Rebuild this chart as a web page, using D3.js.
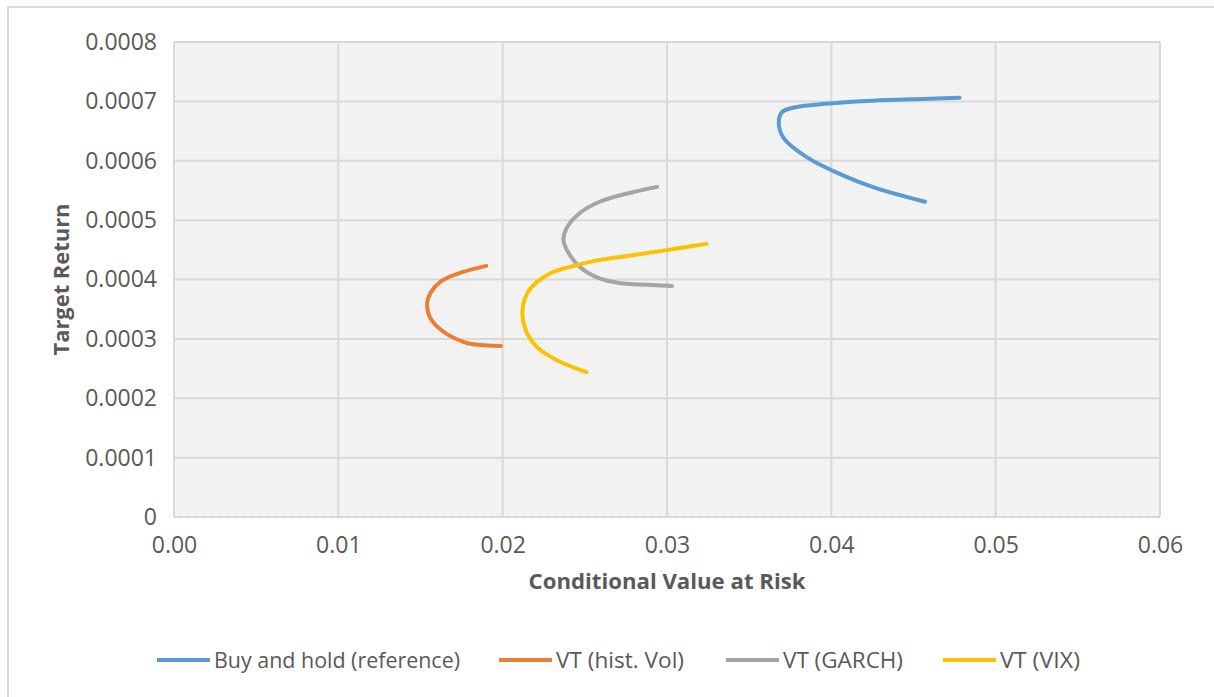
<!DOCTYPE html>
<html>
<head>
<meta charset="utf-8">
<script src="https://cdn.jsdelivr.net/npm/d3@7"></script>
<style>
  html, body { margin: 0; padding: 0; background: #fff; }
  svg { display: block; font-family: "Open Sans", "Noto Sans", sans-serif; }
</style>
</head>
<body>
<svg id="chart" width="1214" height="697"></svg>
<script>
// Efficient-frontier style curves: Conditional Value at Risk vs. Target Return
const seriesNames = ["Buy and hold (reference)", "VT (hist. Vol)", "VT (GARCH)", "VT (VIX)"];
const seriesColors = ["#5b9bd5", "#ed7d31", "#a5a5a5", "#ffc000"];

const buyHoldCvar = [0.0478, 0.0455, 0.0425, 0.0401, 0.0385, 0.0375, 0.0370, 0.0368, 0.0371, 0.0385, 0.0401, 0.0425, 0.0457];
const buyHoldRet  = [0.000706, 0.000704, 0.000701, 0.000697, 0.000693, 0.000688, 0.000682, 0.000664, 0.000638, 0.000606, 0.000583, 0.000556, 0.000531];

const histVolCvar = [0.0190, 0.0174, 0.0162, 0.0156, 0.0154, 0.0156, 0.0164, 0.0176, 0.0182, 0.0199];
const histVolRet  = [0.000423, 0.000411, 0.000396, 0.000377, 0.000360, 0.000335, 0.000312, 0.000295, 0.000291, 0.000288];

const garchCvar = [0.0294, 0.0279, 0.0259, 0.0247, 0.0239, 0.0237, 0.0240, 0.0247, 0.0257, 0.0271, 0.0288, 0.0303];
const garchRet  = [0.000556, 0.000547, 0.000531, 0.000512, 0.000487, 0.000467, 0.000445, 0.000421, 0.000404, 0.000394, 0.000391, 0.000389];

const vixCvar = [0.0324, 0.0308, 0.0279, 0.0259, 0.0245, 0.0231, 0.0221, 0.0215, 0.0212, 0.0214, 0.0221, 0.0233, 0.0251];
const vixRet  = [0.000460, 0.000453, 0.000441, 0.000433, 0.000424, 0.000413, 0.000396, 0.000377, 0.000345, 0.000315, 0.000286, 0.000264, 0.000244];

const xTicks = [0, 0.01, 0.02, 0.03, 0.04, 0.05, 0.06];
const yTicks = [0, 0.0001, 0.0002, 0.0003, 0.0004, 0.0005, 0.0006, 0.0007, 0.0008];
const xTickLabels = ["0.00", "0.01", "0.02", "0.03", "0.04", "0.05", "0.06"];
const yTickLabels = ["0", "0.0001", "0.0002", "0.0003", "0.0004", "0.0005", "0.0006", "0.0007", "0.0008"];

const series = [
  { name: seriesNames[0], color: seriesColors[0], xs: buyHoldCvar, ys: buyHoldRet },
  { name: seriesNames[1], color: seriesColors[1], xs: histVolCvar, ys: histVolRet },
  { name: seriesNames[2], color: seriesColors[2], xs: garchCvar, ys: garchRet },
  { name: seriesNames[3], color: seriesColors[3], xs: vixCvar, ys: vixRet }
];

const svg = d3.select("#chart");
const textColor = "#595959";
const gridColor = "#d9d9d9";

// outer chart frame
svg.append("rect")
  .attr("x", 8).attr("y", 7).attr("width", 1230).attr("height", 720)
  .attr("fill", "#fff").attr("stroke", gridColor).attr("stroke-width", 2);

const plot = { left: 174, right: 1160, top: 42, bottom: 517 };

const x = d3.scaleLinear().domain([0, 0.06]).range([plot.left, plot.right]);
const y = d3.scaleLinear().domain([0, 0.0008]).range([plot.bottom, plot.top]);

// fine woven texture for the plot area
const defs = svg.append("defs");
const pat = defs.append("pattern")
  .attr("id", "weave").attr("patternUnits", "userSpaceOnUse")
  .attr("width", 4).attr("height", 4);
pat.append("rect").attr("width", 4).attr("height", 4).attr("fill", "#f9f9f9");
[[0, 3], [1, 2], [2, 1], [3, 0], [0, 1], [2, 3]].forEach(([px, py]) => {
  pat.append("rect").attr("x", px).attr("y", py).attr("width", 1).attr("height", 1).attr("fill", "#e9e9e9");
});

svg.append("rect")
  .attr("x", plot.left).attr("y", plot.top)
  .attr("width", plot.right - plot.left).attr("height", plot.bottom - plot.top)
  .attr("fill", "url(#weave)");

// gridlines
const grid = svg.append("g").attr("stroke", gridColor).attr("stroke-width", 2);
grid.selectAll("line.v").data(xTicks).join("line")
  .attr("x1", d => x(d)).attr("x2", d => x(d))
  .attr("y1", plot.top).attr("y2", plot.bottom);
grid.selectAll("line.h").data(yTicks).join("line")
  .attr("x1", plot.left).attr("x2", plot.right)
  .attr("y1", d => y(d)).attr("y2", d => y(d));

// axes (labels only, Excel-style)
const xAxis = d3.axisBottom(x).tickValues(xTicks)
  .tickFormat((d, i) => xTickLabels[i]).tickSize(0).tickPadding(20);
const gx = svg.append("g").attr("transform", `translate(0,${plot.bottom})`).call(xAxis);
gx.select(".domain").remove();
gx.selectAll("text").attr("fill", textColor).attr("font-size", 23).attr("font-family", "Open Sans");

const yAxis = d3.axisLeft(y).tickValues(yTicks)
  .tickFormat((d, i) => yTickLabels[i]).tickSize(0).tickPadding(17);
const gy = svg.append("g").attr("transform", `translate(${plot.left},0)`).call(yAxis);
gy.select(".domain").remove();
gy.selectAll("text").attr("fill", textColor).attr("font-size", 23).attr("font-family", "Open Sans");

// axis titles
svg.append("text")
  .attr("x", (plot.left + plot.right) / 2).attr("y", 589)
  .attr("text-anchor", "middle").attr("fill", textColor)
  .attr("font-size", 21).attr("font-weight", "bold")
  .attr("textLength", 277).attr("lengthAdjust", "spacingAndGlyphs")
  .text("Conditional Value at Risk");

svg.append("text")
  .attr("transform", `translate(69,${(plot.top + plot.bottom) / 2}) rotate(-90)`)
  .attr("text-anchor", "middle").attr("fill", textColor)
  .attr("font-size", 21).attr("font-weight", "bold")
  .attr("textLength", 152).attr("lengthAdjust", "spacingAndGlyphs")
  .text("Target Return");

// series curves
const line = d3.line()
  .x(d => x(d[0])).y(d => y(d[1]))
  .curve(d3.curveCatmullRom.alpha(0.5));

svg.append("g").selectAll("path").data(series).join("path")
  .attr("d", s => line(s.xs.map((v, i) => [v, s.ys[i]])))
  .attr("fill", "none")
  .attr("stroke", s => s.color)
  .attr("stroke-width", 4)
  .attr("stroke-linecap", "round")
  .attr("stroke-linejoin", "round");

// legend
const legendItems = [
  { x: 157, textW: 246 },
  { x: 499, textW: 128 },
  { x: 726, textW: 120 },
  { x: 943, textW: 80 }
];
const legend = svg.append("g");
series.forEach((s, i) => {
  const li = legendItems[i];
  legend.append("line")
    .attr("x1", li.x).attr("x2", li.x + 53)
    .attr("y1", 660).attr("y2", 660)
    .attr("stroke", s.color).attr("stroke-width", 4);
  legend.append("text")
    .attr("x", li.x + 57).attr("y", 668)
    .attr("fill", textColor).attr("font-size", 21)
    .attr("textLength", li.textW).attr("lengthAdjust", "spacingAndGlyphs")
    .text(s.name);
});
</script>
</body>
</html>
